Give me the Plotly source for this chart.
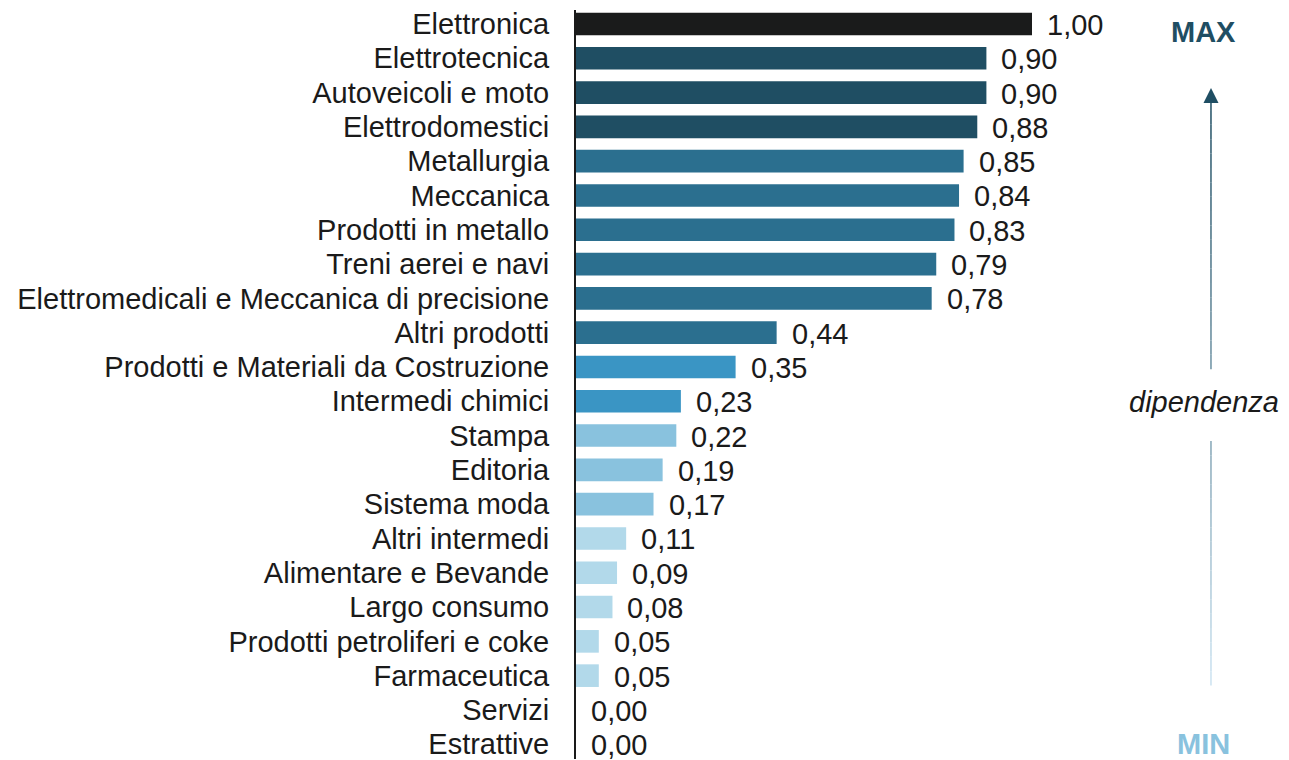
"""Dipendenza per settore: horizontal bar chart with MAX/MIN arrow."""
import plotly.graph_objects as go

categories = [
    "Elettronica", "Elettrotecnica", "Autoveicoli e moto", "Elettrodomestici",
    "Metallurgia", "Meccanica", "Prodotti in metallo", "Treni aerei e navi",
    "Elettromedicali e Meccanica di precisione", "Altri prodotti",
    "Prodotti e Materiali da Costruzione", "Intermedi chimici", "Stampa",
    "Editoria", "Sistema moda", "Altri intermedi", "Alimentare e Bevande",
    "Largo consumo", "Prodotti petroliferi e coke", "Farmaceutica",
    "Servizi", "Estrattive",
]
values = [
    1.00, 0.90, 0.90, 0.88, 0.85, 0.84, 0.83, 0.79, 0.78, 0.44, 0.35,
    0.23, 0.22, 0.19, 0.17, 0.11, 0.09, 0.08, 0.05, 0.05, 0.00, 0.00,
]

# colour tier per bar
BLACK, DARK, MID, BRIGHT, LIGHT, PALE = (
    "#1a1b1b", "#1f4e63", "#2b6f8f", "#3a95c4", "#89c2de", "#b2d9ea",
)
bar_colors = (
    [BLACK] + [DARK] * 3 + [MID] * 6 + [BRIGHT] * 2 + [LIGHT] * 3 + [PALE] * 7
)

FONT = "Liberation Sans, Arial, sans-serif"
TEXT_COLOR = "#1a1a1a"
SIZE = 29

fig = go.Figure(
    go.Bar(
        x=values,
        y=categories,
        orientation="h",
        marker=dict(color=bar_colors, line=dict(width=0)),
        width=0.66,
        hoverinfo="x+y",
    )
)

annotations = [
    dict(
        x=v, y=c, xref="x", yref="y",
        text=f"{v:.2f}".replace(".", ","),
        showarrow=False, xanchor="left", yanchor="middle", xshift=13, yshift=-1,
        font=dict(family=FONT, size=SIZE, color=TEXT_COLOR),
    )
    for c, v in zip(categories, values)
]

ARROW_X = 1.3925
annotations += [
    dict(x=1.377, y=0.971, xref="x", yref="paper", text="<b>MAX</b>",
         showarrow=False, xanchor="center", yanchor="middle",
         font=dict(family=FONT, size=SIZE, color=DARK)),
    dict(x=1.377, y=0.020, xref="x", yref="paper", text="<b>MIN</b>",
         showarrow=False, xanchor="center", yanchor="middle",
         font=dict(family=FONT, size=SIZE, color=LIGHT)),
    dict(x=1.377, y=0.476, xref="x", yref="paper", text="<i>dipendenza</i>",
         showarrow=False, xanchor="center", yanchor="middle",
         font=dict(family=FONT, size=SIZE, color=TEXT_COLOR)),
    dict(x=ARROW_X, y=0.896, xref="x", yref="paper", ax=0, ay=24,
         text="", showarrow=True, arrowhead=2, arrowsize=2,
         arrowwidth=1.5, arrowcolor=DARK),
]

# gradient stem of the arrow: dark at top fading to pale at bottom
top_rgb, bot_rgb = (31, 78, 99), (205, 228, 242)
y_top, y_bot = 0.866, 0.098
gap = (0.436, 0.519)
steps = 40
shapes = []
for i in range(steps):
    y0 = y_top - (y_top - y_bot) * i / steps
    y1 = y_top - (y_top - y_bot) * (i + 1) / steps
    if y1 < gap[1] and y0 > gap[0]:
        continue
    t = (i + 0.5) / steps
    rgb = tuple(round(a + (b - a) * t) for a, b in zip(top_rgb, bot_rgb))
    shapes.append(dict(
        type="line", xref="x", yref="paper",
        x0=ARROW_X, x1=ARROW_X, y0=y0, y1=y1,
        line=dict(color=f"rgb{rgb}", width=1.5),
    ))

fig.update_layout(
    width=1281,
    height=752,
    margin=dict(l=568, r=29, t=0, b=0),
    paper_bgcolor="white",
    plot_bgcolor="white",
    showlegend=False,
    font=dict(family=FONT, size=SIZE, color=TEXT_COLOR),
    xaxis=dict(range=[0, 1.5], visible=False, fixedrange=True),
    yaxis=dict(
        type="category",
        range=[21.43, -0.407],
        tickmode="array", tickvals=categories, ticktext=categories,
        showline=True, linecolor=TEXT_COLOR, linewidth=2,
        showgrid=False, zeroline=False, ticks="",
        ticklabelstandoff=19,
        tickfont=dict(family=FONT, size=SIZE, color=TEXT_COLOR),
        fixedrange=True,
    ),
    annotations=annotations,
    shapes=shapes,
)

fig.write_html("out.html")
